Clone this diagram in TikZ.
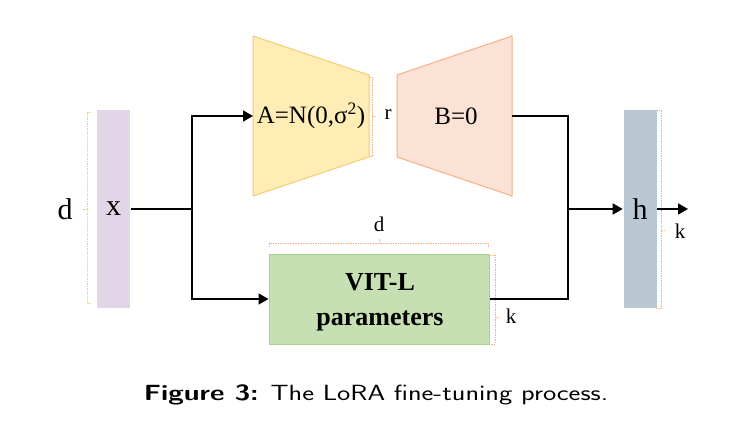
\documentclass[tikz,border=0pt]{standalone}
\usepackage{fontspec}
\setmainfont{Liberation Serif}
\usepackage{graphicx}
\usepackage{tikz}
\usetikzlibrary{arrows.meta}

\definecolor{xbar}{HTML}{E1D5E7}
\definecolor{hbar}{HTML}{BAC8D3}
\definecolor{afill}{HTML}{FFEDB5}
\definecolor{aline}{HTML}{F2CF70}
\definecolor{bfill}{HTML}{FBE2D5}
\definecolor{bline}{HTML}{F4B183}
\definecolor{vfill}{HTML}{C6E0B4}
\definecolor{vline}{HTML}{A9D18E}

% the caption letters are wider than tall
\newcommand{\wide}[1]{\scalebox{1.28}[1]{#1}}

\begin{document}
\begin{tikzpicture}[x=1pt, y=-1pt, line width=1.6pt,
        bar/.style = {draw=none, minimum width=33pt, minimum height=198pt, inner sep=0pt},
        big/.style = {font=\fontsize{30}{34}\selectfont},
        mid/.style = {font=\fontsize{25}{29}\selectfont},
        small/.style = {font=\fontsize{21}{24}\selectfont, inner sep=1pt},
        brk/.style = {draw=#1, line width=0.8pt, dash pattern=on 1.5pt off 1pt},
        wire/.style = {-{Triangle[length=10pt, width=11pt]}}]
        \useasboundingbox (0,0) rectangle (752,439);
        %% Bars
        \node[bar, fill=xbar, big] (x) at (113.5,209) {x};
        \node[bar, fill=hbar, big] (h) at (640,209) {h};
        \node[big] (dx) at (65,209) {d};
        %% Low-rank matrices
        \draw[fill=afill, draw=aline, line width=1pt] (253,36) -- (369,75) -- (369,157) -- (253,196) -- cycle;
        \draw[fill=bfill, draw=bline, line width=1pt] (397,75) -- (512,36) -- (512,196) -- (397,157) -- cycle;
        \node[mid] (A) at (311,116) {A=N(0,σ\textsuperscript{2})};
        \node[mid] (B) at (456,116) {B=0};
        \node[small] (r) at (388,115) {r};
        %% Frozen weights
        \node[draw=vline, fill=vfill, line width=1pt, minimum width=220pt, minimum height=90pt] (vit) at (379,299) {};
        \node[align=center, font=\bfseries\fontsize{26}{35}\selectfont] (vitlabel) at (380,302) {VIT-L\\parameters};
        \node[small] (dv) at (379,224) {d};
        \node[small] (kv) at (511,316) {k};
        \node[small] (kh) at (680,231) {k};
        %% Brackets
        \draw[brk=aline] (91,112) -- (87,112) -- (87,303) -- (91,303);
        \draw[brk=aline] (87,209) -- (82,209);
        \draw[brk=bline] (369,77) -- (372,77) -- (372,156) -- (369,156);
        \draw[brk=bline] (372,116) -- (377,116);
        \draw[brk=bline] (269,247) -- (269,243) -- (488,243) -- (488,247);
        \draw[brk=bline] (379,243) -- (379,239);
        \draw[brk=bline] (489,255) -- (495,255) -- (495,344) -- (489,344);
        \draw[brk=bline] (495,317) -- (500,317);
        \draw[brk=bline] (656,110) -- (661,110) -- (661,308) -- (656,308);
        \draw[brk=bline] (661,230) -- (666,230);
        %% Arrows
        \coordinate (split) at (192,209);
        \coordinate (join) at (568,209);
        \coordinate (Ain) at (253,116);
        \coordinate (Bout) at (512,116);
        \coordinate (out) at (688,209);
        \draw (x.east) -- (split);
        \draw[wire] (split) |- (Ain);
        \draw[wire] (split) |- (vit.west);
        \draw (Bout) -| (join);
        \draw (vit.east) -| (join);
        \draw[wire] (join) -- (h.west);
        \draw[wire] (h.east) -- (out);
        %% Caption
        \node[font=\sffamily\fontsize{22}{26}\selectfont] (cap) at (376,395) {\wide{\textbf{Figure 3:} The LoRA fine-tuning process.}};
    \end{tikzpicture}
\end{document}
